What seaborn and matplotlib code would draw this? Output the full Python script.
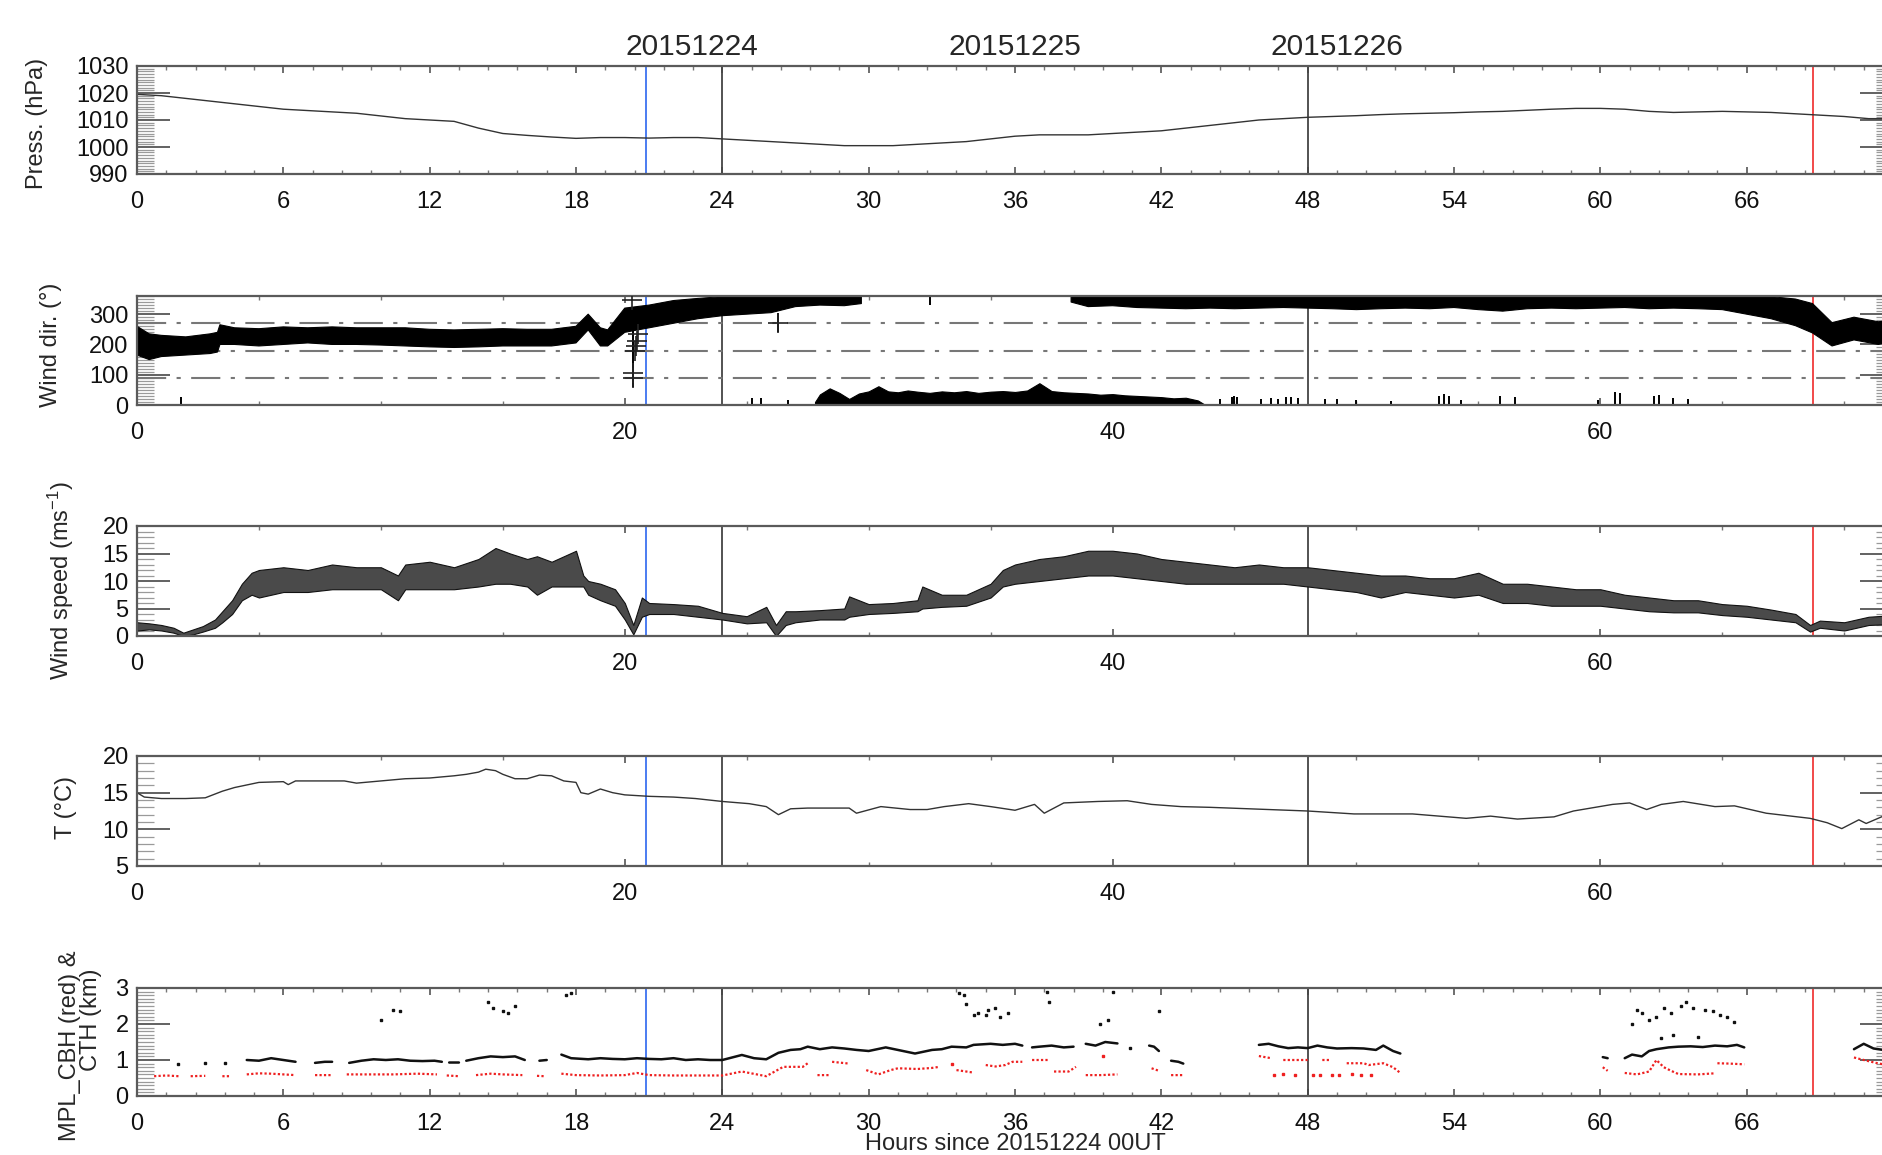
import numpy as np
import matplotlib
matplotlib.use("Agg")
import matplotlib.pyplot as plt
from matplotlib.ticker import MultipleLocator
import seaborn as sns

nan = np.nan

# ---- surface pressure (hPa), hourly
pres_hours = np.arange(0, 73)
pres = [1019.5, 1019, 1018, 1017, 1016, 1015, 1014, 1013.5, 1013, 1012.5,
        1011.5, 1010.5, 1010, 1009.5, 1007, 1005, 1004.3, 1003.7, 1003.2, 1003.5,
        1003.5, 1003.3, 1003.5, 1003.5, 1003, 1002.5, 1002, 1001.5, 1001, 1000.5,
        1000.5, 1000.5, 1001, 1001.5, 1002, 1003, 1004, 1004.5, 1004.5, 1004.5,
        1005, 1005.5, 1006, 1007, 1008, 1009, 1010, 1010.5, 1011, 1011.3,
        1011.6, 1012, 1012.3, 1012.5, 1012.7, 1013, 1013.2, 1013.6, 1014, 1014.3,
        1014.3, 1014, 1013.2, 1012.8, 1013, 1013.2, 1013, 1012.8, 1012.3, 1011.8,
        1011.3, 1010.5, 1010.5]

# ---- wind direction (deg): main band edges, gap where it wraps past 360
dir_t = [0, 0.5, 1, 2, 3, 3.3, 3.4, 4,
         5, 6, 7, 8, 9, 10, 11, 12, 13, 14, 15, 16, 17,
         18, 18.5, 19, 19.3, 20,
         21, 22, 23, 24,
         25, 26, 27, 28, 29, 29.7,
         29.8, 38.2,
         38.3, 39,
         40, 41, 42, 43, 44, 45, 46, 47, 48, 49, 50, 51, 52, 53, 54, 55, 56,
         57, 58, 59, 60, 61, 62, 63, 64, 65,
         66, 67, 68, 68.7, 69.5, 70.4, 71.4, 72]
dir_lo = [165, 150, 160, 165, 170, 175, 200, 200,
          195, 200, 205, 200, 200, 198, 195, 192, 190, 192, 195, 195, 195,
          205, 248, 195, 195, 240,
          255, 270, 285, 295,
          300, 305, 325, 330, 328, 335,
          nan, nan,
          340, 325,
          328, 322, 320, 318, 320, 318, 320, 322, 320, 318, 315, 318, 320, 318, 322, 315, 310,
          318, 320, 318, 320, 322, 318, 320, 318, 315,
          300, 285, 262, 238, 195, 215, 200, 215]
dir_hi = [260, 235, 230, 225, 235, 240, 265, 255,
          252, 258, 255, 258, 255, 255, 255, 250, 248, 250, 252, 250, 250,
          260, 300, 255, 248, 320,
          330, 345, 352, 358,
          362, 362, 362, 362, 362, 362,
          nan, nan,
          362, 362,
          362, 362, 362, 362, 362, 362, 362, 362, 362, 362, 362, 362, 362, 362, 362, 362, 362,
          362, 362, 362, 362, 362, 362, 362, 362, 362,
          362, 358, 350, 335, 272, 290, 275, 280]

# wrapped directions just above 0 deg
wrap_t = [27.8, 28.0, 28.4, 28.8, 29.2, 29.6, 30.0, 30.4, 30.8, 31.2, 31.6, 32.0,
          32.5, 33.0, 33.5, 34.0, 34.5, 35.0, 35.5, 36.0, 36.5, 37.0, 37.5, 38.0,
          38.5, 39.0, 39.5, 40.0, 40.5, 41.0, 41.5, 42.0, 42.5, 43.0, 43.5, 43.8]
wrap_hi = [10, 35, 55, 40, 20, 38, 45, 62, 45, 42, 48, 44,
           40, 45, 42, 46, 40, 44, 46, 43, 48, 72, 46, 42,
           40, 38, 34, 36, 32, 30, 28, 26, 22, 24, 15, 0]

# isolated spikes from the bottom
spike_t = [1.8, 25.2, 25.6, 26.7, 44.4, 44.9, 45.0, 45.1, 46.1, 46.5, 46.8, 47.1,
           47.3, 47.6, 48.7, 49.2, 50.0, 51.4, 53.4, 53.6, 53.8, 54.3, 55.9, 56.5,
           59.9, 60.6, 60.8, 62.2, 62.4, 63.0, 63.6]
spike_h = [27, 22, 22, 18, 20, 28, 30, 28, 20, 22, 20, 25,
           25, 22, 20, 20, 18, 14, 30, 36, 30, 15, 30, 25,
           15, 44, 38, 30, 32, 22, 20]
# single outlier readings
dir_out_t = [20.34, 20.34, 20.4, 20.45, 20.5, 20.55, 20.3, 26.3]
dir_out_v = [89, 105, 180, 195, 210, 235, 347, 272]
dir_bar_t = [20.34, 26.3, 32.5]
dir_bar_lo = [60, 240, 330]
dir_bar_hi = [258, 305, 360]

# ---- wind speed (m/s): envelope of the 1-min series
ws_t = [0, 0.5, 1, 1.5, 1.9, 2.3, 2.7, 3.2, 3.5, 3.9, 4.3, 4.7, 5,
        6, 7, 8, 9, 10, 10.7, 11, 12, 13, 14, 14.7, 15.3, 16, 16.4, 17, 18,
        18.3, 18.5, 19, 19.6, 20, 20.35, 20.7, 21, 22, 23, 24, 25,
        25.8, 26.2, 26.6, 27, 28, 29, 29.2, 30, 31, 32, 32.2, 33, 34, 35, 35.5,
        36, 37, 38, 39, 40, 41, 42, 43, 44, 45, 46, 47, 48, 49, 50, 51, 52,
        53, 54, 55, 56, 57, 58, 59, 60, 61, 62, 63, 64, 65, 66, 67, 68,
        68.6, 69, 70, 70.5, 71, 72]
ws_lo = [1.0, 1.2, 1.0, 0.6, 0.0, 0.3, 0.8, 1.5, 2.5, 4.0, 6.5, 7.5, 7.0,
         8.0, 8.0, 8.5, 8.5, 8.5, 6.5, 8.5, 8.5, 8.5, 9.0, 9.5, 9.5, 9.0, 7.5, 9.0, 9.0,
         9.0, 7.5, 6.5, 5.5, 3.0, 0.3, 3.5, 4.0, 4.0, 3.5, 3.0, 2.3,
         2.5, 0.0, 2.0, 2.5, 3.0, 3.0, 3.5, 4.0, 4.2, 4.5, 5.0, 5.3, 5.5, 7.0, 9.0,
         9.5, 10.0, 10.5, 11.0, 11.0, 10.5, 10.0, 9.5, 9.5, 9.5, 9.5, 9.5, 9.0, 8.5, 8.0, 7.0, 8.0,
         7.5, 7.0, 7.5, 6.0, 6.0, 5.5, 5.5, 5.5, 5.0, 4.5, 4.3, 4.3, 3.8, 3.5, 3.0, 2.5,
         0.8, 1.5, 1.0, 1.5, 2.0, 2.2]
ws_hi = [2.5, 2.3, 2.0, 1.5, 0.6, 1.2, 1.8, 3.0, 4.5, 6.5, 9.5, 11.5, 12.0,
         12.5, 12.0, 13.0, 12.5, 12.5, 11.0, 13.0, 13.5, 12.5, 14.0, 16.0, 15.0, 14.0, 14.5, 13.5, 15.5,
         11.0, 10.0, 9.5, 8.5, 6.0, 2.0, 7.0, 6.0, 5.8, 5.5, 4.2, 3.6,
         5.3, 2.0, 4.5, 4.5, 4.7, 5.0, 7.2, 5.8, 6.0, 6.5, 9.0, 7.5, 7.5, 9.5, 12.0,
         13.0, 14.0, 14.5, 15.5, 15.5, 15.0, 14.0, 13.5, 13.0, 12.5, 13.0, 12.5, 12.5, 12.0, 11.5, 11.0, 11.0,
         10.5, 10.5, 11.5, 9.5, 9.5, 9.0, 8.5, 8.5, 7.5, 7.0, 6.5, 6.5, 5.8, 5.5, 4.8, 4.0,
         2.0, 2.8, 2.5, 3.0, 3.5, 3.8]

# ---- air temperature (deg C)
temp_t = [0, 0.3, 1, 2, 2.8, 3.5, 4, 5, 6, 6.2, 6.5, 7, 8, 8.5, 9, 10, 11, 12, 13, 13.5,
          14, 14.3, 14.7, 15, 15.5, 16, 16.5, 17, 17.5, 18, 18.2, 18.5, 19, 19.5, 20, 21,
          22, 22.9, 24, 25.1, 25.8, 26.3, 26.8, 27.5, 28.5, 29.2, 29.5, 30.5, 31.7, 32.4,
          33.1, 34.1, 35, 36, 36.8, 37.2, 38, 39.4, 40.6, 41.6, 42.8, 44, 45.6, 48, 49.9,
          52.3, 54.5, 55.5, 56.6, 58.1, 58.9, 60.5, 61.2, 61.9, 62.5, 63.4, 64.7, 65.5,
          66.8, 68.6, 69.3, 69.9, 70.6, 70.9, 71.6, 72]
temp = [15.0, 14.4, 14.2, 14.2, 14.3, 15.2, 15.7, 16.4, 16.5, 16.1, 16.6, 16.6, 16.6, 16.6,
        16.3, 16.6, 16.9, 17.0, 17.3, 17.5, 17.8, 18.2, 18.0, 17.5, 16.9, 16.9, 17.4, 17.3,
        16.6, 16.4, 15.0, 14.8, 15.5, 15.0, 14.7, 14.5, 14.4, 14.2, 13.8, 13.5, 13.1, 12.0,
        12.8, 12.9, 12.9, 12.9, 12.2, 13.1, 12.7, 12.7, 13.1, 13.5, 13.1, 12.6, 13.4, 12.2,
        13.6, 13.8, 13.9, 13.4, 13.1, 13.0, 12.8, 12.5, 12.1, 12.1, 11.5, 11.8, 11.4, 11.7,
        12.5, 13.4, 13.6, 12.7, 13.4, 13.8, 13.1, 13.2, 12.2, 11.5, 10.9, 10.1, 11.3, 10.8,
        11.8, 11.6]

# ---- MPL cloud top (black) and cloud base (red) heights (km)
cth_t = [4.5, 5.0, 5.5, 6.0, 6.5, nan,
         7.3, 7.7, 8.0, nan,
         8.7, 9.2, 9.7, 10.2, 10.7, 11.2, 11.7, 12.2, 12.5, nan,
         12.8, 13.2, nan,
         13.5, 14.0, 14.5, 15.0, 15.5, 15.9, nan,
         16.5, 16.8, nan,
         17.4, 17.8, 18.5, 19.0, 19.5, 20.0, 20.5, 21.0, 21.5, 22.0,
         22.5, 23.0, 23.5, 24.0, 24.8, 25.3, 25.8, 26.3, 26.8, 27.2,
         27.5, 28.0, 28.5, 29.0, 29.5, 30.0, 30.7, 31.2, 31.9, 32.6,
         33.0, 33.4, 34.0, 34.3, 35.0, 35.5, 36.0, 36.3, nan,
         36.7, 37.0, 37.5, 38.0, 38.4, nan,
         38.9, 39.3, 39.7, 40.2, nan,
         41.5, 41.7, 41.9, nan,
         42.4, 42.7, 42.9, nan,
         46.0, 46.4, 46.8, 47.2, 47.6, 48.0, 48.4, 48.8, 49.2, 49.8, 50.3, 50.8, 51.1, 51.5, 51.8, nan,
         60.1, 60.3, nan,
         61.0, 61.3, 61.7, 62.0, 62.3, 62.8, 63.2, 63.7, 64.2, 64.7, 65.2, 65.6, 65.9, nan,
         70.4, 70.8, 71.2, 71.6, 72.0]
cth_z = [1.0, 0.98, 1.05, 1.0, 0.95, nan,
         0.92, 0.95, 0.95, nan,
         0.92, 0.98, 1.02, 1.0, 1.02, 0.98, 0.97, 0.98, 0.95, nan,
         0.93, 0.93, nan,
         0.98, 1.05, 1.1, 1.08, 1.1, 1.0, nan,
         0.98, 1.0, nan,
         1.15, 1.05, 1.02, 1.05, 1.03, 1.02, 1.05, 1.03, 1.02, 1.05,
         1.0, 1.02, 1.0, 1.0, 1.14, 1.05, 1.02, 1.2, 1.28, 1.3,
         1.37, 1.3, 1.35, 1.32, 1.28, 1.25, 1.35, 1.28, 1.18, 1.28,
         1.3, 1.37, 1.35, 1.42, 1.45, 1.42, 1.45, 1.4, nan,
         1.35, 1.37, 1.4, 1.35, 1.37, nan,
         1.45, 1.4, 1.5, 1.46, nan,
         1.4, 1.37, 1.25, nan,
         0.98, 0.95, 0.9, nan,
         1.42, 1.45, 1.38, 1.33, 1.35, 1.33, 1.4, 1.35, 1.32, 1.33, 1.32, 1.28, 1.4, 1.25, 1.18, nan,
         1.08, 1.05, nan,
         1.05, 1.15, 1.1, 1.25, 1.3, 1.35, 1.37, 1.38, 1.36, 1.4, 1.38, 1.42, 1.35, nan,
         1.3, 1.45, 1.32, 1.28, 1.25]
cth_out_t = [1.7, 2.8, 3.6, 10.0, 10.5, 10.8, 14.4, 14.6, 15.0, 15.2, 15.5, 17.6, 17.8,
             33.7, 33.9, 34.0, 34.3, 34.5, 34.8, 34.9, 35.2, 35.4, 35.7, 37.3, 37.4,
             39.5, 39.8, 40.0, 41.9, 40.7, 61.3, 61.5, 61.7, 62.0, 62.3, 62.6, 62.9,
             63.3, 63.5, 63.8, 64.3, 64.6, 64.9, 65.2, 65.5, 62.5, 63.0, 64.0]
cth_out_z = [0.9, 0.92, 0.93, 2.1, 2.4, 2.35, 2.6, 2.45, 2.35, 2.3, 2.5, 2.8, 2.85,
             2.85, 2.8, 2.55, 2.25, 2.3, 2.25, 2.4, 2.45, 2.2, 2.3, 2.9, 2.6,
             2.0, 2.1, 2.9, 2.35, 1.32, 2.0, 2.4, 2.3, 2.1, 2.2, 2.45, 2.3,
             2.5, 2.6, 2.45, 2.4, 2.35, 2.25, 2.2, 2.05, 1.6, 1.7, 1.65]
cbh_t = [0.7, 1.2, 1.7, nan,
         2.2, 2.8, nan,
         3.5, 3.8, nan,
         4.5, 5.0, 5.5, 6.0, 6.5, nan,
         7.3, 8.0, nan,
         8.6, 9.5, 10.5, 11.5, 12.3, nan,
         12.7, 13.2, nan,
         13.9, 14.5, 15.0, 15.8, nan,
         16.4, 16.7, nan,
         17.4, 18.0, 19.0, 20.0, 20.5, 21.0, 22.0, 23.0, 24.0, 24.8, 25.8, 26.5, 27.3, 27.5, nan,
         27.9, 28.4, nan,
         28.5, 29.2, nan,
         29.9, 30.4, 30.9, 31.2, 32.0, 32.6, 32.9, nan,
         33.6, 34.3, nan,
         34.8, 35.2, 35.6, 35.9, 36.3, nan,
         36.7, 37.4, nan,
         37.6, 38.2, 38.5, nan,
         38.9, 39.5, 40.2, nan,
         41.6, 41.9, nan,
         42.4, 42.9, nan,
         46.0, 46.5, nan,
         47.0, 48.0, nan,
         48.6, 48.9, nan,
         49.6, 50.3, 50.5, 51.1, 51.5, 51.8, nan,
         60.1, 60.3, nan,
         61.0, 61.5, 62.0, 62.3, 62.6, 62.9, 63.2, 64.0, 64.7, nan,
         64.8, 65.3, 65.9, nan,
         70.4, 70.8, 71.3, 71.6, 72.0]
cbh_z = [0.55, 0.57, 0.55, nan,
         0.55, 0.56, nan,
         0.55, 0.55, nan,
         0.6, 0.63, 0.62, 0.6, 0.58, nan,
         0.58, 0.58, nan,
         0.6, 0.6, 0.6, 0.62, 0.6, nan,
         0.57, 0.55, nan,
         0.58, 0.62, 0.6, 0.58, nan,
         0.56, 0.55, nan,
         0.62, 0.58, 0.57, 0.58, 0.64, 0.58, 0.57, 0.57, 0.57, 0.68, 0.55, 0.81, 0.81, 0.91, nan,
         0.58, 0.58, nan,
         0.95, 0.9, nan,
         0.72, 0.6, 0.72, 0.77, 0.75, 0.78, 0.81, nan,
         0.72, 0.65, nan,
         0.86, 0.82, 0.86, 0.95, 0.95, nan,
         1.0, 1.0, nan,
         0.68, 0.68, 0.81, nan,
         0.58, 0.58, 0.6, nan,
         0.77, 0.7, nan,
         0.58, 0.58, nan,
         1.11, 1.05, nan,
         1.0, 1.0, nan,
         1.0, 1.0, nan,
         0.91, 0.91, 0.86, 0.91, 0.8, 0.64, nan,
         0.8, 0.7, nan,
         0.64, 0.6, 0.68, 1.0, 0.8, 0.7, 0.61, 0.6, 0.63, nan,
         0.91, 0.9, 0.88, nan,
         1.07, 1.0, 0.92, 0.88, 0.9]
cbh_out_t = [46.6, 47.0, 47.5, 48.2, 48.5, 49.0, 49.3, 49.8, 50.2, 50.6, 39.6, 33.4]
cbh_out_z = [0.58, 0.6, 0.58, 0.58, 0.57, 0.58, 0.58, 0.6, 0.58, 0.58, 1.1, 0.9]

# reference times (h): day boundaries and the two event markers
day_lines = [24, 48]
blue_time = 20.87
red_time = 68.7
day_labels = ["20151224", "20151225", "20151226"]

sns.set_theme(style="white")
plt.rcParams["font.family"] = ["Liberation Sans", "DejaVu Sans"]
plt.rcParams["mathtext.fontset"] = "custom"
plt.rcParams["mathtext.rm"] = "Liberation Sans"
plt.rcParams["mathtext.it"] = "Liberation Sans:italic"

W, H = 1883, 1155
fig = plt.figure(figsize=(W / 100, H / 100), dpi=100)
left, right = 137, 1893
rows = [(66, 174), (296, 405), (526, 636), (756, 866), (988, 1096)]
axes = [fig.add_axes([left / W, 1 - b / H, (right - left) / W, (b - t) / H]) for t, b in rows]


def style_axis(ax, ymajor, yminor, ylim, xmajor, xminor):
    ax.set_xlim(0, 72)
    ax.set_ylim(*ylim)
    ax.set_xticks(xmajor)
    ax.xaxis.set_minor_locator(MultipleLocator(xminor))
    ax.set_yticks(ymajor)
    ax.yaxis.set_minor_locator(MultipleLocator(yminor))
    ax.tick_params(which="both", direction="in", left=True, bottom=True, top=True, right=True,
                   labelsize=17, labelcolor="#111")
    ax.tick_params(axis="y", which="major", length=24, width=1.3, color="#555", pad=6)
    ax.tick_params(axis="y", which="minor", length=12, width=0.9, color="#9a9a9a")
    ax.tick_params(axis="x", which="major", length=5, width=1.2, color="#555", pad=12)
    ax.tick_params(axis="x", which="minor", length=3, width=1.0, color="#777")
    for s in ax.spines.values():
        s.set_color("#5a5a5a")
        s.set_linewidth(1.6)
    for d in day_lines:
        ax.axvline(d, color="#444", lw=1.3, zorder=1)
    ax.axvline(blue_time, color="#3d72f0", lw=1.3, zorder=1)
    ax.axvline(red_time, color="#f03a3a", lw=1.3, zorder=1)


ax1, ax2, ax3, ax4, ax5 = axes
six_hourly = list(range(0, 67, 6))
twenty = [0, 20, 40, 60]

# pressure
style_axis(ax1, [990, 1000, 1010, 1020, 1030], 1, (990, 1030), six_hourly, 1.2)
sns.lineplot(x=pres_hours, y=pres, ax=ax1, color="#333", lw=1.0)
ax1.set_ylabel("Press. (hPa)", fontsize=17)
ax1.yaxis.set_label_coords(-0.0507, 0.47)

# wind direction
style_axis(ax2, [0, 100, 200, 300], 10, (0, 360), twenty, 5)
for lvl in (90, 180, 270):
    ax2.axhline(lvl, color="#777", lw=1.5, dashes=(14, 5, 2, 5), zorder=1)
ax2.fill_between(dir_t, dir_lo, dir_hi, color="black", lw=0.8, zorder=2)
ax2.fill_between(wrap_t, 0, wrap_hi, color="black", lw=0.8, zorder=2)
ax2.vlines(spike_t, 0, spike_h, color="black", lw=1.4, zorder=2)
ax2.vlines(dir_bar_t, dir_bar_lo, dir_bar_hi, color="black", lw=1.4, zorder=2)
ax2.plot(dir_out_t, dir_out_v, ls="none", marker="+", ms=14, mew=1.2, color="#222", zorder=3)
ax2.set_ylabel("Wind dir. (\u00b0)", fontsize=17)
ax2.yaxis.set_label_coords(-0.0427, 0.55)

# wind speed
style_axis(ax3, [0, 5, 10, 15, 20], 1, (0, 20), twenty, 5)
ax3.fill_between(ws_t, ws_lo, ws_hi, facecolor="#4a4a4a", edgecolor="#111", lw=0.8, zorder=2)
ax3.set_ylabel("Wind speed (ms$^{-1}$)", fontsize=17)
ax3.yaxis.set_label_coords(-0.0347, 0.5)

# temperature
style_axis(ax4, [5, 10, 15, 20], 1, (5, 20), twenty, 5)
sns.lineplot(x=temp_t, y=temp, ax=ax4, color="#333", lw=1.0)
ax4.set_ylabel("T (\u00b0C)", fontsize=17)
ax4.yaxis.set_label_coords(-0.034, 0.53)

# cloud heights
style_axis(ax5, [0, 1, 2, 3], 0.1, (0, 3), six_hourly, 1.2)
ax5.plot(cbh_t, cbh_z, color="#ee2020", lw=1.6, ls=(0, (1, 1)), zorder=2)
ax5.plot(cth_t, cth_z, color="#111", lw=1.8, zorder=3)
ax5.plot(cbh_out_t, cbh_out_z, ls="none", marker="s", ms=1.6, color="#ee2020", zorder=2)
ax5.plot(cth_out_t, cth_out_z, ls="none", marker="s", ms=1.6, color="#111", zorder=3)
ax5.set_ylabel("")
fig.text(70 / W, 1 - 1046 / H, "MPL_CBH (red) &", rotation=90, fontsize=17,
         ha="center", va="center")
fig.text(91 / W, 1 - 1020 / H, "CTH (km)", rotation=90, fontsize=17,
         ha="center", va="center")

for lab, xpix in zip(day_labels, [692, 1015, 1337]):
    fig.text(xpix / W, 1 - 55 / H, lab, fontsize=21.5, ha="center", va="baseline")
fig.text(1015 / W, 5 / H, "Hours since 20151224 00UT", fontsize=17, ha="center", va="baseline")

fig.savefig("out.png", dpi=100)
